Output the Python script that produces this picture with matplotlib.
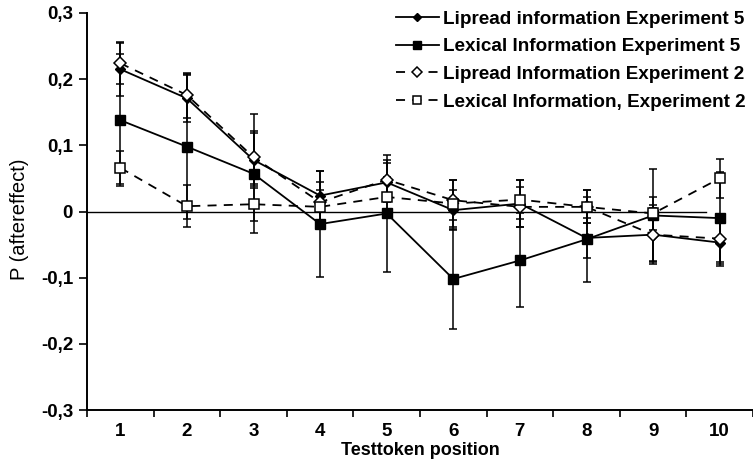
import matplotlib
matplotlib.use("Agg")
import matplotlib.pyplot as plt
from matplotlib.ticker import FixedLocator, FuncFormatter

plt.rcParams["font.family"] = ["Liberation Sans", "DejaVu Sans"]

positions = [1, 2, 3, 4, 5, 6, 7, 8, 9, 10]

lipread5 = [0.215, 0.171, 0.078, 0.024, 0.044, 0.002, 0.012, -0.040, -0.035, -0.047]
lipread5_err = [0.040, 0.035, 0.040, 0.037, 0.030, 0.030, 0.035, 0.030, 0.045, 0.035]

lexical5 = [0.138, 0.098, 0.057, -0.019, -0.003, -0.102, -0.074, -0.042, -0.006, -0.010]
lexical5_err = [0.100, 0.110, 0.090, 0.080, 0.089, 0.075, 0.071, 0.064, 0.070, 0.070]

lipread2 = [0.224, 0.176, 0.082, 0.014, 0.048, 0.017, 0.007, 0.007, -0.035, -0.041]
lipread2_err = [0.032, 0.034, 0.040, 0.030, 0.030, 0.030, 0.030, 0.025, 0.040, 0.035]

lexical2 = [0.066, 0.008, 0.011, 0.007, 0.022, 0.012, 0.018, 0.007, -0.003, 0.050]
lexical2_err = [0.025, 0.032, 0.025, 0.025, 0.030, 0.035, 0.030, 0.025, 0.025, 0.030]

labels = [
    "Lipread information Experiment 5",
    "Lexical Information Experiment 5",
    "Lipread Information Experiment 2",
    "Lexical Information, Experiment 2",
]

fig = plt.figure(figsize=(7.53, 4.70), dpi=100)
ax = fig.add_axes([87 / 753, 60 / 470, 666 / 753, 397 / 470])

# nulllijn
ax.axhline(0, xmin=0, xmax=0.93, color="black", lw=1.0, zorder=1)

common = dict(color="black", ecolor="black", elinewidth=1.1, capsize=3, capthick=1.1, lw=1.3)

c1 = ax.errorbar(positions, lipread5, yerr=lipread5_err, marker="D", ms=5,
                 mfc="black", mec="black", ls="-", **common)
c2 = ax.errorbar(positions, lexical5, yerr=lexical5_err, marker="s", ms=7,
                 mfc="black", mec="black", ls="-", **common)
c3 = ax.errorbar(positions, lipread2, yerr=lipread2_err, marker="D", ms=6,
                 mfc="white", mec="black", mew=1.1, ls=(0, (5, 4)), **common)
c4 = ax.errorbar(positions, lexical2, yerr=lexical2_err, marker="s", ms=7,
                 mfc="white", mec="black", mew=1.1, ls=(0, (5, 4)), **common)

ax.set_xlim(0.5, 10.5)
ax.set_ylim(-0.3, 0.3)

ax.xaxis.set_major_locator(FixedLocator([x - 0.5 for x in positions] + [10.5]))
ax.xaxis.set_major_formatter(FuncFormatter(lambda v, p: ""))
ax.xaxis.set_minor_locator(FixedLocator(positions))
ax.xaxis.set_minor_formatter(FuncFormatter(lambda v, p: f"{v:.0f}"))
ax.tick_params(axis="x", which="major", direction="out", length=5, width=1.2)
ax.tick_params(axis="x", which="minor", length=0, pad=9, labelsize=13.5)

ax.set_yticks([-0.3, -0.2, -0.1, 0, 0.1, 0.2, 0.3])
ax.yaxis.set_major_formatter(
    FuncFormatter(lambda v, p: "0" if abs(v) < 1e-9 else f"{v:.1f}".replace(".", ",")))
ax.tick_params(axis="y", direction="out", length=6, width=1.2, labelsize=13.5, pad=4)

for lab in ax.get_xticklabels(minor=True) + ax.get_yticklabels():
    lab.set_fontweight("bold")

for side in ["top", "right"]:
    ax.spines[side].set_visible(False)
for side in ["left", "bottom"]:
    ax.spines[side].set_linewidth(1.4)

ax.set_xlabel("Testtoken position", fontsize=13, fontweight="bold", labelpad=2)
ax.set_ylabel("P (aftereffect)", fontsize=14.5)
ax.yaxis.set_label_coords(-0.087, 0.48)

handles = [c1[0], c2[0], c3[0], c4[0]]
leg = ax.legend(handles, labels, loc="upper right", bbox_to_anchor=(1.0, 1.025),
                frameon=False, handlelength=2.3, handletextpad=0.2,
                labelspacing=0.55, borderaxespad=0.0, markerscale=0.8,
                prop={"size": 13.6, "weight": "bold"})

fig.savefig("out.png", dpi=100)
